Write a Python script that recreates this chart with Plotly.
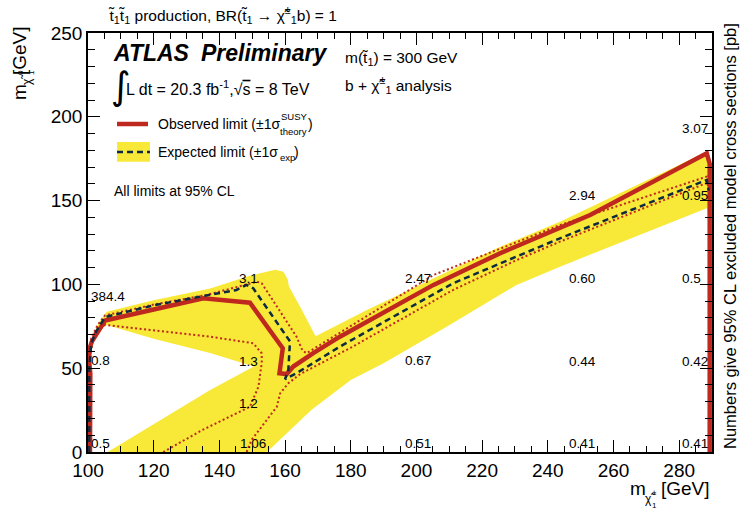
import plotly.graph_objects as go

# ---------------- data ----------------
# Observed limit (solid red)
obs_x = [100.6, 100.6, 100.7, 100.3, 100.5, 101.2, 102.1, 105.2, 120.0, 135.1, 149.3, 159.3, 158.3, 160.5,
         162.5, 168.6, 176.7, 205.2, 225.5, 243.7, 252.9, 288.4, 289.3, 289.3]
obs_y = [0.0, 30.0, 47.0, 55.0, 62.0, 66.0, 69.0, 78.5, 85.0, 91.7, 89.1, 61.9, 47.0, 46.5,
         51.0, 59.0, 68.8, 99.7, 118.6, 133.5, 141.4, 178.2, 172.0, 0.0]

# Expected limit (dashed)
exp_x = [100.4, 100.4, 101.0, 102.5, 105.2, 120.0, 135.0, 145.2, 148.3, 150.3, 161.5, 161.0, 160.0,
         163.5, 176.7, 211.2, 243.7, 288.4, 289.0]
exp_y = [0.0, 50.0, 65.0, 72.0, 80.5, 87.5, 93.0, 96.7, 99.7, 97.7, 66.0, 49.0, 43.4,
         47.0, 62.9, 100.7, 127.5, 162.3, 156.0]

# Observed +1 sigma theory (dotted)
obs_up_x = [100.3, 101.0, 103.0, 105.2, 120.0, 136.1, 151.4, 152.9, 163.5, 165.3, 166.6, 179.8,
            205.2, 243.7, 288.4, 289.0]
obs_up_y = [40.0, 68.0, 76.0, 81.5, 88.0, 93.7, 101.6, 100.7, 68.8, 60.5, 59.0, 74.9,
            105.6, 135.4, 164.3, 155.0]

# Observed -1 sigma theory (dotted), two pieces
obs_dn1_x = [122.9, 134.8, 149.3, 151.9, 152.9, 152.9, 150.3, 137.2, 105.2, 102.0, 100.4, 100.4]
obs_dn1_y = [0.0, 13.1, 27.0, 39.0, 53.0, 58.9, 64.9, 68.8, 75.8, 71.0, 55.0, 0.0]
obs_dn2_x = [148.3, 149.8, 157.5, 158.5, 161.0, 164.6, 179.8, 211.2, 230.5, 243.7, 288.4]
obs_dn2_y = [0.0, 7.2, 27.0, 35.0, 41.0, 46.5, 62.0, 96.7, 114.5, 125.5, 160.5]

# Expected +-1 sigma band (yellow polygon outline)
band_x = [100.5, 100.8, 102.0, 103.7, 105.7, 120.0, 137.2, 149.0, 157.0, 159.5, 160.8, 161.2, 164.6,
          169.3, 184.9, 205.2, 225.5, 243.7, 288.4, 289.3, 289.3, 288.4, 243.7, 230.5, 209.2, 190.0,
          180.0, 168.0, 154.5, 106.0, 137.2, 150.5, 137.2, 120.0, 105.7, 103.0, 101.0, 100.5]
band_y = [55.0, 66.0, 72.0, 78.5, 83.7, 90.5, 97.5, 105.0, 108.8, 107.5, 103.0, 98.6, 86.7,
          69.0, 84.7, 103.6, 122.5, 137.4, 179.2, 177.0, 134.0, 145.4, 110.6, 99.7, 74.7, 53.0,
          43.0, 25.0, 0.0, 0.0, 37.0, 51.0, 59.0, 67.5, 75.8, 72.0, 62.0, 55.0]

# Excluded cross-section numbers [pb] (left edge of text, vertical centre)
xs_text = ["384.4", "0.8", "0.5",
           "3.1", "1.3", "1.2", "1.06",
           "2.47", "0.67", "0.51",
           "2.94", "0.60", "0.44", "0.41",
           "3.07", "0.95", "0.5", "0.42", "0.41"]
xs_x = [100.3, 100.2, 100.2,
        145.5, 145.5, 145.5, 145.8,
        195.8, 195.8, 196.0,
        245.8, 245.8, 245.8, 245.8,
        280.2, 280.2, 280.2, 280.2, 280.2]
xs_y = [92.7, 54.3, 5.3,
        103.7, 53.9, 29.1, 5.2,
        103.7, 54.5, 4.8,
        153.3, 103.8, 53.9, 4.8,
        193.1, 153.3, 103.8, 53.9, 4.8]

x_ticks = [100, 120, 140, 160, 180, 200, 220, 240, 260, 280]
y_ticks = [0, 50, 100, 150, 200, 250]

# ---------------- style ----------------
FONT = "Liberation Sans, Arial, Helvetica, sans-serif"
RED = "#BF281E"
YELLOW = "#F8E838"
NAVY = "#0E2A40"

fig = go.Figure()

fig.add_trace(go.Scatter(x=band_x, y=band_y, mode="lines", fill="toself", fillcolor=YELLOW,
                         line=dict(width=0, color=YELLOW), hoverinfo="skip", showlegend=False))
fig.add_trace(go.Scatter(x=obs_x, y=obs_y, mode="lines", line=dict(color=RED, width=4.5),
                         showlegend=False))
for xx, yy in [(obs_up_x, obs_up_y), (obs_dn1_x, obs_dn1_y), (obs_dn2_x, obs_dn2_y)]:
    fig.add_trace(go.Scatter(x=xx, y=yy, mode="lines",
                             line=dict(color=RED, width=2, dash="2px,2.5px"), showlegend=False))
fig.add_trace(go.Scatter(x=exp_x, y=exp_y, mode="lines",
                         line=dict(color=NAVY, width=2.5, dash="6px,4px"), showlegend=False))

# numbers
for t, x, y in zip(xs_text, xs_x, xs_y):
    fig.add_annotation(x=x, y=y, xref="x", yref="y", text=t, showarrow=False,
                       xanchor="left", yanchor="middle", font=dict(family=FONT, size=13.5, color="black"))

# ---------------- pixel helpers for decorations ----------------
L, R, T, B = 88, 30, 33, 60
W, H = 742, 512
PW, PH = W - L - R, H - T - B


def px(xp):
    return (xp - L) / PW


def py(yp):
    return (H - B - yp) / PH


def ann(text, x, y, size, xanchor="left", yanchor="middle", angle=0, family=FONT):
    fig.add_annotation(x=px(x), y=py(y), xref="paper", yref="paper", text=text, showarrow=False,
                       xanchor=xanchor, yanchor=yanchor, textangle=angle,
                       font=dict(family=family, size=size, color="black"))


# title
ann("t̃<sub>1</sub>t̃<sub>1</sub> production, BR(t̃<sub>1</sub> → χ̃<sup>±</sup><sub>1</sub>b) = 1", 106, 15, 15.5)
# ATLAS label
ann("<b><i>ATLAS</i></b>", 111, 53, 23)
ann("<b><i>Preliminary</i></b>", 199, 53, 23)
ann("∫", 109, 86, 38, family="DejaVu Sans")
ann("L dt = 20.3 fb<sup>-1</sup>,√<span style='text-decoration:overline'>s</span> = 8 TeV", 124, 88, 16)
ann("m(t̃<sub>1</sub>) = 300 GeV", 343, 58, 15.5)
ann("b + χ̃<sup>±</sup><sub>1</sub> analysis", 343, 85, 15.5)

# legend
fig.add_shape(type="line", xref="paper", yref="paper", x0=px(117), x1=px(148), y0=py(124), y1=py(124),
              line=dict(color=RED, width=4.5))
fig.add_shape(type="rect", xref="paper", yref="paper", x0=px(117), x1=px(150), y0=py(161.7), y1=py(142),
              fillcolor=YELLOW, line=dict(width=0))
fig.add_shape(type="line", xref="paper", yref="paper", x0=px(117), x1=px(150), y0=py(152), y1=py(152),
              line=dict(color=NAVY, width=2.5, dash="6px,4px"))
ann("Observed limit (±1σ", 156, 124, 14)
ann("SUSY", 278.5, 116, 9.5)
ann("theory", 277.5, 131, 9.5)
ann(")", 306, 124, 14)
ann("Expected limit (±1σ", 156, 152, 14)
ann("exp", 277.5, 157, 9.5)
ann(")", 292, 152, 14)
ann("All limits at 95% CL", 112, 191, 14)

# axis titles (pieces placed so the sub/superscripts stack as in the reference)
ann("[GeV]", 19, 51, 19, xanchor="center", yanchor="middle", angle=-90)
ann("χ̃", 27, 80, 12, xanchor="center", yanchor="middle", angle=-90)
ann("0", 20, 73, 8, xanchor="center", yanchor="middle", angle=-90)
ann("1", 31, 73, 8, xanchor="center", yanchor="middle", angle=-90)
ann("m", 19, 92, 19, xanchor="center", yanchor="middle", angle=-90)

ann("m", 628, 488, 19, xanchor="left", yanchor="middle")
ann("χ̃", 643, 499, 12, xanchor="left", yanchor="middle")
ann("±", 650, 492, 8, xanchor="left", yanchor="middle")
ann("1", 650, 505, 8, xanchor="left", yanchor="middle")
ann("[GeV]", 712, 488, 19, xanchor="right", yanchor="middle")

ann("Numbers give 95% CL excluded model cross sections [pb]", 730, 236, 16.5,
    xanchor="center", yanchor="middle", angle=-90)

axis_common = dict(showgrid=False, zeroline=False, showline=True, linecolor="black", linewidth=1.5,
                   mirror="allticks", ticks="inside", ticklen=12, tickwidth=1, tickcolor="black",
                   tickfont=dict(family=FONT, size=19, color="black"))

fig.update_xaxes(range=[100, 290], tickvals=x_ticks, ticktext=[str(v) for v in x_ticks],
                 minor=dict(dtick=5, tick0=100, ticks="inside", ticklen=6, tickcolor="black", tickwidth=1),
                 **axis_common)
fig.update_yaxes(range=[0, 250], tickvals=y_ticks, ticktext=[str(v) for v in y_ticks],
                 minor=dict(dtick=10, tick0=0, ticks="inside", ticklen=7, tickcolor="black", tickwidth=1),
                 **axis_common)

fig.update_layout(width=W, height=H, margin=dict(l=L, r=R, t=T, b=B),
                  plot_bgcolor="white", paper_bgcolor="white", showlegend=False,
                  font=dict(family=FONT, color="black"))

fig.write_html("out.html", config={"displayModeBar": False},
               post_script="document.body.style.margin='0px';")
